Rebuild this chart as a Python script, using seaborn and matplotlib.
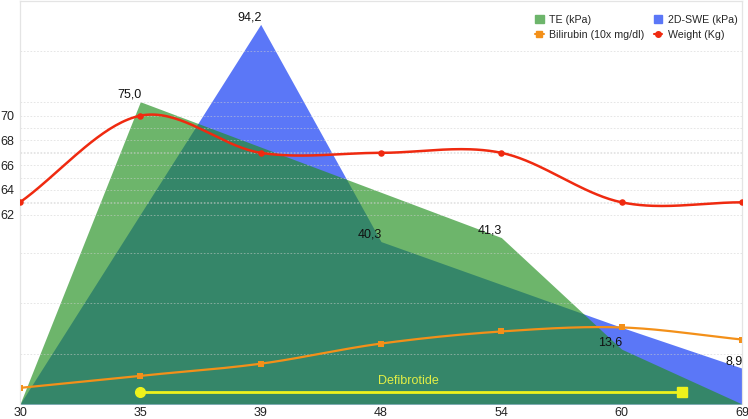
import numpy as np
import pandas as pd
import seaborn as sns
import matplotlib.pyplot as plt
from matplotlib.patches import Patch
from matplotlib.lines import Line2D
from matplotlib.ticker import FixedLocator, FixedFormatter

#   data (x axis is categorical)
days = ["30", "35", "39", "48", "54", "60", "69"]
te_kpa = [0.0, 75.0, None, None, 41.3, 13.6, 0.0]
swe_kpa = [0.0, None, 94.2, 40.3, None, 19.0, 8.9]
bilirubin = [4.0, 7.0, 10.0, 15.0, 18.0, 19.0, 16.0]
weight = [63, 70, 67, 67, 67, 63, 63]

te_labels = {1: "75,0", 4: "41,3", 5: "13,6"}
swe_labels = {2: "94,2", 3: "40,3", 6: "8,9"}

defib_start, defib_end, defib_level = 1.0, 5.5, 3.0

# colours
C_BLUE = "#5b77f7"
C_GREEN = "#228f1f"
C_GREEN_LEG = "#6db56b"
C_ORANGE = "#f39019"
C_RED = "#ef2a10"
C_YELLOW = "#eef21c"


def smooth(vals, n=40):
    # catmull-rom style curve through the points, only for drawing
    y = np.asarray(vals, float)
    m = np.empty_like(y)
    m[1:-1] = (y[2:] - y[:-2]) / 2
    m[0] = y[1] - y[0]
    m[-1] = y[-1] - y[-2]
    t = np.linspace(0, 1, n)
    h00 = 2 * t**3 - 3 * t**2 + 1
    h10 = t**3 - 2 * t**2 + t
    h01 = -2 * t**3 + 3 * t**2
    h11 = t**3 - t**2
    xs, ys = [], []
    for i in range(len(y) - 1):
        xs.append(i + t)
        ys.append(h00 * y[i] + h10 * m[i] + h01 * y[i + 1] + h11 * m[i + 1])
    return np.concatenate(xs), np.concatenate(ys)


sns.set_theme(style="white")
plt.rcParams["font.family"] = ["Liberation Sans", "DejaVu Sans"]

fig = plt.figure(figsize=(7.48, 4.19), dpi=100)
ax = fig.add_axes([20 / 748, 15 / 419, 722 / 748, 403 / 419])

df = pd.DataFrame({"x": np.arange(len(days)), "te": te_kpa, "swe": swe_kpa,
                   "bili": bilirubin, "weight": weight})
df[["te", "swe"]] = df[["te", "swe"]].astype(float)

swe = df.dropna(subset=["swe"])
te = df.dropna(subset=["te"])
ax.fill_between(swe["x"], 0, swe["swe"], color=C_BLUE, lw=0, zorder=1)
ax.fill_between(te["x"], 0, te["te"], color=C_GREEN, alpha=0.66, lw=0, zorder=1.2)

# value labels (right aligned on the point)
for i, txt in te_labels.items():
    ax.annotate(txt, (i, te_kpa[i]), xytext=(1, 4), textcoords="offset pixels",
                ha="right", va="baseline", fontsize=9, color="#111111", zorder=5)
for i, txt in swe_labels.items():
    ax.annotate(txt, (i, swe_kpa[i]), xytext=(1, 4), textcoords="offset pixels",
                ha="right", va="baseline", fontsize=9, color="#111111", zorder=5)

# bilirubin
bx, by = smooth(bilirubin)
ax.plot(bx, by, color=C_ORANGE, lw=1.6, zorder=3)
sns.scatterplot(data=df, x="x", y="bili", ax=ax, marker="s", s=16, color=C_ORANGE,
                edgecolor=C_ORANGE, linewidth=0, zorder=4, legend=False)

# defibrotide bar
ax.plot([defib_start, defib_end], [defib_level, defib_level], color=C_YELLOW, lw=2, zorder=3)
ax.plot([defib_start], [defib_level], "o", color=C_YELLOW, ms=7, zorder=4)
ax.plot([defib_end], [defib_level], "s", color=C_YELLOW, ms=7, zorder=4)
ax.text(3.23, 5.7, "Defibrotide", color="#e2ee45", fontsize=9, ha="center", va="center", zorder=5)

ax.set_xlim(0, 6)
ax.set_ylim(0, 100)
ax.set_xticks(range(len(days)))
ax.set_xticklabels(days, fontsize=9, color="#222222")
ax.set_yticks(np.arange(12.5, 100, 12.5))
ax.set_yticklabels([])
ax.tick_params(axis="both", length=0, pad=2)
ax.tick_params(axis="y", left=False, labelleft=False)
ax.grid(axis="y", color="#cfcfcf", lw=0.6, ls=(0, (2, 2)), alpha=0.6)
ax.set_axisbelow(False)
ax.set_xlabel("")
ax.set_ylabel("")

# weight on its own scale, labels on the left
ax2 = ax.twinx()
wx, wy = smooth(weight)
ax2.plot(wx, wy, color=C_RED, lw=1.8, zorder=3)
sns.scatterplot(data=df, x="x", y="weight", ax=ax2, marker="o", s=22, color=C_RED,
                edgecolor=C_RED, linewidth=0, zorder=4, legend=False)
ax2.set_ylim(46.7, 79.27)
ax2.yaxis.tick_left()
ax2.yaxis.set_major_locator(FixedLocator(list(range(62, 71))))
ax2.yaxis.set_major_formatter(FixedFormatter([str(v) if v % 2 == 0 else "" for v in range(62, 71)]))
ax2.tick_params(axis="y", length=0, pad=4, labelsize=9, labelcolor="#222222")
ax2.tick_params(axis="y", right=False, labelright=False)
ax2.grid(axis="y", color="#cfcfcf", lw=0.6, ls=(0, (2, 2)), alpha=0.6)
ax2.set_xlabel("")
ax2.set_ylabel("")

for a in (ax, ax2):
    for side in ("left", "right", "top"):
        a.spines[side].set_color("#e4e4e4")
        a.spines[side].set_linewidth(0.8)
    a.spines["bottom"].set_visible(False)

handles = [
    Patch(color=C_GREEN_LEG),
    Line2D([], [], color=C_ORANGE, marker="s", ms=4, lw=1.5),
    Patch(color=C_BLUE),
    Line2D([], [], color=C_RED, marker="o", ms=4, lw=1.5),
]
labels = ["TE (kPa)", "Bilirubin (10x mg/dl)", "2D-SWE (kPa)", "Weight (Kg)"]
ax2.legend(handles, labels, ncol=2, loc="upper right", bbox_to_anchor=(1.007, 0.99),
           frameon=False, fontsize=7.7, handlelength=0.8, handleheight=0.8,
           handletextpad=0.5, columnspacing=0.9, labelspacing=0.5, borderaxespad=0.5)

fig.savefig("out.png", dpi=100)
